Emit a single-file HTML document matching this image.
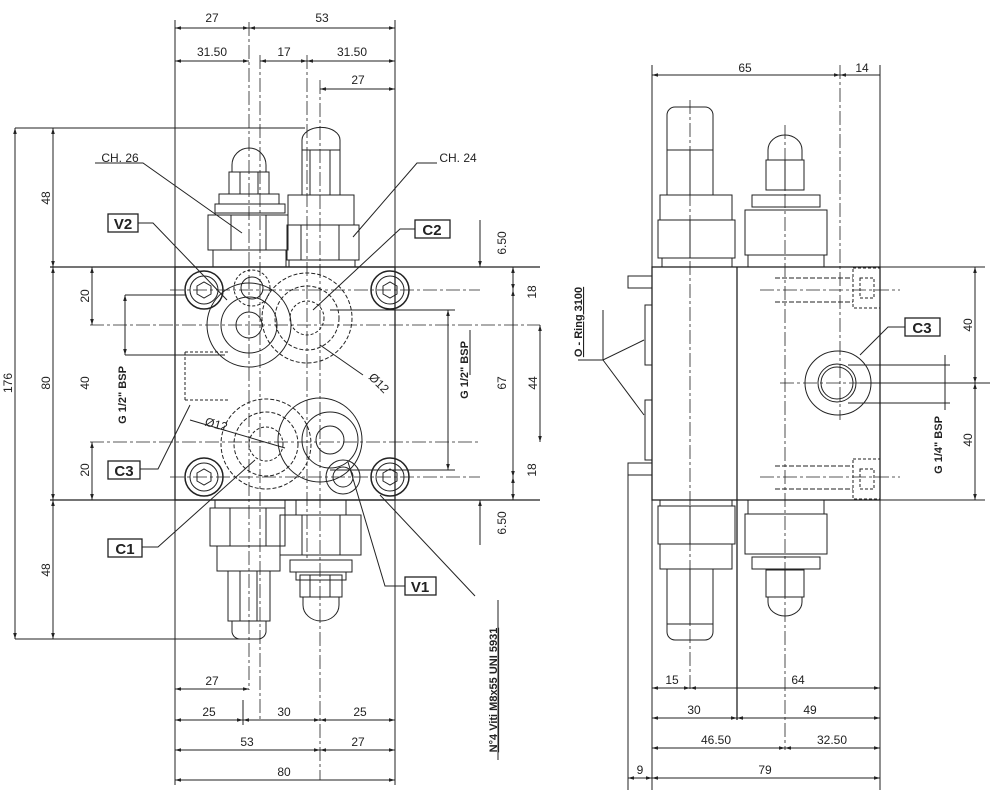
<!DOCTYPE html>
<html><head><meta charset="utf-8"><style>
html,body{margin:0;padding:0;background:#fff}
svg{display:block}
text{font-family:"Liberation Sans",sans-serif;font-size:12px;fill:#222}
.b{font-weight:bold}
</style></head><body>
<svg width="1000" height="807" viewBox="0 0 1000 807" xmlns="http://www.w3.org/2000/svg">
<defs>
<marker id="a" viewBox="0 0 10 10" refX="10" refY="5" markerWidth="8" markerHeight="6" orient="auto-start-reverse"><path d="M0,2L10,5L0,8z" fill="#222"/></marker>
</defs>
<g stroke="#222" fill="none" stroke-width="1">
<!-- LEFT VIEW body -->
<rect x="175" y="267" width="220" height="233" stroke-width="1.3"/>
<line x1="15" y1="128" x2="305" y2="128"/>
<line x1="15" y1="639" x2="240" y2="639"/>
<line x1="50" y1="267" x2="540" y2="267" stroke-width="1.3"/>
<line x1="50" y1="500" x2="540" y2="500" stroke-width="1.3"/>
<line x1="175" y1="20" x2="175" y2="785"/>
<line x1="395" y1="20" x2="395" y2="785"/>
<!-- center lines -->
<g stroke-dasharray="14,3,3,3" stroke-width="0.8">
<line x1="249" y1="22" x2="249" y2="690"/>
<line x1="260" y1="55" x2="260" y2="720"/>
<line x1="307" y1="55" x2="307" y2="560"/>
<line x1="320" y1="80" x2="320" y2="780"/>
<line x1="90" y1="325" x2="540" y2="325"/>
<line x1="90" y1="442" x2="480" y2="442"/>
<line x1="170" y1="290" x2="480" y2="290"/>
<line x1="170" y1="477" x2="480" y2="477"/>
</g>
<!-- top dims -->
<line x1="175" y1="28" x2="249" y2="28" marker-start="url(#a)" marker-end="url(#a)"/>
<line x1="249" y1="28" x2="395" y2="28" marker-start="url(#a)" marker-end="url(#a)"/>
<line x1="175" y1="61" x2="249" y2="61" marker-start="url(#a)" marker-end="url(#a)"/>
<line x1="260" y1="61" x2="307" y2="61" marker-start="url(#a)" marker-end="url(#a)"/>
<line x1="307" y1="61" x2="395" y2="61" marker-start="url(#a)" marker-end="url(#a)"/>
<line x1="320" y1="89" x2="395" y2="89" marker-start="url(#a)" marker-end="url(#a)"/>
<!-- left dims -->
<line x1="15" y1="128" x2="15" y2="639" marker-start="url(#a)" marker-end="url(#a)"/>
<line x1="53" y1="128" x2="53" y2="267" marker-start="url(#a)" marker-end="url(#a)"/>
<line x1="53" y1="267" x2="53" y2="500" marker-start="url(#a)" marker-end="url(#a)"/>
<line x1="53" y1="500" x2="53" y2="639" marker-start="url(#a)" marker-end="url(#a)"/>
<line x1="92" y1="267" x2="92" y2="325" marker-start="url(#a)" marker-end="url(#a)"/>
<line x1="125" y1="295" x2="125" y2="355" marker-start="url(#a)" marker-end="url(#a)"/>
<line x1="125" y1="295" x2="185" y2="295"/><line x1="125" y1="355" x2="225" y2="355"/>
<line x1="92" y1="442" x2="92" y2="500" marker-start="url(#a)" marker-end="url(#a)"/>
<!-- right dims -->
<line x1="480" y1="220" x2="480" y2="267" marker-end="url(#a)"/>
<line x1="480" y1="500" x2="480" y2="545" marker-start="url(#a)"/>
<line x1="513" y1="267" x2="513" y2="290" marker-start="url(#a)" marker-end="url(#a)"/>
<line x1="513" y1="290" x2="513" y2="477" marker-start="url(#a)" marker-end="url(#a)"/>
<line x1="513" y1="477" x2="513" y2="500" marker-start="url(#a)" marker-end="url(#a)"/>
<line x1="540" y1="325" x2="540" y2="442" marker-start="url(#a)" marker-end="url(#a)"/>
<line x1="448" y1="310" x2="448" y2="470" marker-start="url(#a)" marker-end="url(#a)"/>
<line x1="330" y1="310" x2="455" y2="310"/><line x1="330" y1="470" x2="455" y2="470"/>
<line x1="470" y1="330" x2="470" y2="375"/>
<!-- bottom dims -->
<line x1="175" y1="689" x2="249" y2="689" marker-start="url(#a)" marker-end="url(#a)"/>
<line x1="175" y1="720" x2="243" y2="720" marker-start="url(#a)" marker-end="url(#a)"/>
<line x1="243" y1="720" x2="320" y2="720" marker-start="url(#a)" marker-end="url(#a)"/>
<line x1="320" y1="720" x2="395" y2="720" marker-start="url(#a)" marker-end="url(#a)"/>
<line x1="175" y1="750" x2="320" y2="750" marker-start="url(#a)" marker-end="url(#a)"/>
<line x1="320" y1="750" x2="395" y2="750" marker-start="url(#a)" marker-end="url(#a)"/>
<line x1="175" y1="780" x2="395" y2="780" marker-start="url(#a)" marker-end="url(#a)"/>
<line x1="243" y1="700" x2="243" y2="725"/>
<!-- upper left valve x=249 -->
<path d="M232,165 A17,17 0 0 1 266,165 L266,172 L232,172 Z"/>
<rect x="229" y="172" width="40" height="22"/><line x1="240" y1="172" x2="240" y2="194"/><line x1="258" y1="172" x2="258" y2="194"/>
<rect x="219" y="194" width="60" height="10"/><rect x="215" y="204" width="70" height="9"/>
<path d="M208,215 L288,215 L288,250 L208,250 Z"/><line x1="231" y1="215" x2="231" y2="250"/><line x1="266" y1="215" x2="266" y2="250"/>
<rect x="213" y="250" width="73" height="17"/>
<!-- upper right valve x=320 -->
<path d="M302,140 A18,12 0 0 1 340,140 L340,150 L302,150 Z"/>
<rect x="302" y="150" width="38" height="45"/><line x1="310" y1="150" x2="310" y2="195"/><line x1="330" y1="150" x2="330" y2="195"/>
<rect x="288" y="195" width="66" height="30"/>
<rect x="287" y="225" width="72" height="35"/><line x1="301" y1="225" x2="301" y2="260"/><line x1="339" y1="225" x2="339" y2="260"/>
<rect x="289" y="260" width="66" height="7"/>
<!-- circles -->
<circle cx="204" cy="290" r="19" stroke-width="1.5"/><circle cx="204" cy="290" r="14"/>
<circle cx="390" cy="290" r="19" stroke-width="1.5"/><circle cx="390" cy="290" r="14"/>
<circle cx="204" cy="477" r="19" stroke-width="1.5"/><circle cx="204" cy="477" r="14"/>
<circle cx="390" cy="477" r="19" stroke-width="1.5"/><circle cx="390" cy="477" r="14"/>
<path d="M197,286l7,-4 7,4 0,8 -7,4 -7,-4z"/><path d="M383,286l7,-4 7,4 0,8 -7,4 -7,-4z"/>
<path d="M197,473l7,-4 7,4 0,8 -7,4 -7,-4z"/><path d="M383,473l7,-4 7,4 0,8 -7,4 -7,-4z"/>
<circle cx="249" cy="325" r="42"/><circle cx="249" cy="325" r="28"/><circle cx="249" cy="325" r="13"/>
<circle cx="307" cy="318" r="45" stroke-dasharray="4,2"/><circle cx="307" cy="318" r="32" stroke-dasharray="4,2"/><circle cx="307" cy="318" r="17" stroke-dasharray="3,2"/>
<circle cx="252" cy="288" r="18" stroke-dasharray="3,2"/><circle cx="252" cy="288" r="11"/>
<circle cx="266" cy="444" r="45" stroke-dasharray="4,2"/><circle cx="266" cy="444" r="32" stroke-dasharray="4,2"/><circle cx="266" cy="444" r="17" stroke-dasharray="3,2"/>
<circle cx="320" cy="440" r="42"/><circle cx="330" cy="440" r="28"/><circle cx="330" cy="440" r="14"/>
<circle cx="343" cy="477" r="17"/><circle cx="343" cy="477" r="10"/>
<path d="M185,352 L230,352 M185,400 L230,400 M185,352 L185,400" stroke-dasharray="3,2"/>
<!-- lower left valve x=249 -->
<rect x="215" y="500" width="70" height="8"/>
<rect x="210" y="508" width="75" height="38"/><line x1="230" y1="508" x2="230" y2="546"/><line x1="266" y1="508" x2="266" y2="546"/>
<rect x="217" y="546" width="63" height="25"/>
<rect x="228" y="571" width="42" height="50"/><line x1="240" y1="571" x2="240" y2="621"/><line x1="257" y1="571" x2="257" y2="621"/>
<path d="M232,621 L266,621 L266,632 A8,8 0 0 1 258,639 L240,639 A8,8 0 0 1 232,632 Z"/>
<!-- lower right valve x=320 -->
<rect x="296" y="500" width="50" height="15"/>
<rect x="280" y="515" width="81" height="40"/><line x1="302" y1="515" x2="302" y2="555"/><line x1="340" y1="515" x2="340" y2="555"/>
<rect x="290" y="560" width="62" height="12"/><rect x="296" y="572" width="50" height="8"/>
<rect x="300" y="575" width="42" height="22"/><line x1="310" y1="575" x2="310" y2="597"/><line x1="330" y1="575" x2="330" y2="597"/>
<path d="M303,597 L339,597 L339,605 A18,16 0 0 1 303,605 Z"/>
<!-- leaders -->
<path d="M95,163 L143,163 L242,233"/>
<path d="M437,163 L417,163 L353,237"/>
<path d="M138,223 L153,223 L227,300"/>
<path d="M415,229 L400,229 L313,310"/>
<path d="M140,469 L158,469 L190,405"/>
<path d="M142,547 L158,547 L255,460"/>
<path d="M405,586 L385,586 L348,462"/>
<path d="M475,596 L380,495"/>
<line x1="190" y1="420" x2="285" y2="448"/>
<line x1="320" y1="345" x2="363" y2="375"/>
<!-- label boxes -->
<rect x="108" y="214" width="30" height="18" stroke-width="1.3"/>
<rect x="415" y="220" width="35" height="18" stroke-width="1.3"/>
<rect x="108" y="461" width="32" height="18" stroke-width="1.3"/>
<rect x="108" y="539" width="34" height="18" stroke-width="1.3"/>
<rect x="405" y="577" width="31" height="18" stroke-width="1.3"/>
<line x1="498" y1="600" x2="498" y2="760"/>

<!-- RIGHT VIEW -->
<rect x="652" y="267" width="228" height="233" stroke-width="1.3"/>
<line x1="737" y1="267" x2="737" y2="720" stroke-width="1.3"/>
<line x1="652" y1="65" x2="652" y2="790"/>
<line x1="880" y1="65" x2="880" y2="790"/>
<line x1="628" y1="470" x2="628" y2="790"/>
<g stroke-dasharray="14,3,3,3" stroke-width="0.8">
<line x1="690" y1="100" x2="690" y2="690"/>
<line x1="785" y1="125" x2="785" y2="750"/>
<line x1="840" y1="65" x2="840" y2="420"/>
<line x1="780" y1="383" x2="900" y2="383"/>
<line x1="760" y1="290" x2="900" y2="290"/>
<line x1="760" y1="477" x2="900" y2="477"/>
</g>
<line x1="652" y1="75" x2="840" y2="75" marker-start="url(#a)" marker-end="url(#a)"/>
<line x1="840" y1="75" x2="880" y2="75" marker-start="url(#a)"/>
<line x1="652" y1="688" x2="690" y2="688" marker-start="url(#a)" marker-end="url(#a)"/>
<line x1="690" y1="688" x2="880" y2="688" marker-start="url(#a)" marker-end="url(#a)"/>
<line x1="652" y1="718" x2="737" y2="718" marker-start="url(#a)" marker-end="url(#a)"/>
<line x1="737" y1="718" x2="880" y2="718" marker-start="url(#a)" marker-end="url(#a)"/>
<line x1="652" y1="748" x2="785" y2="748" marker-start="url(#a)" marker-end="url(#a)"/>
<line x1="785" y1="748" x2="880" y2="748" marker-start="url(#a)" marker-end="url(#a)"/>
<line x1="628" y1="778" x2="652" y2="778" marker-start="url(#a)" marker-end="url(#a)"/>
<line x1="652" y1="778" x2="880" y2="778" marker-start="url(#a)" marker-end="url(#a)"/>
<line x1="880" y1="267" x2="985" y2="267"/><line x1="880" y1="500" x2="985" y2="500"/>
<line x1="975" y1="267" x2="975" y2="383" marker-start="url(#a)" marker-end="url(#a)"/>
<line x1="975" y1="383" x2="975" y2="500" marker-start="url(#a)" marker-end="url(#a)"/>
<line x1="860" y1="383" x2="990" y2="383"/>
<line x1="848" y1="365" x2="950" y2="365"/><line x1="848" y1="403" x2="950" y2="403"/>
<line x1="945" y1="355" x2="945" y2="410"/>
<!-- right upper left cylinder -->
<path d="M667,115 A8,8 0 0 1 675,107 L705,107 A8,8 0 0 1 713,115 L713,150 L667,150 Z"/>
<rect x="667" y="150" width="46" height="45"/><line x1="690" y1="150" x2="690" y2="195"/>
<rect x="660" y="195" width="72" height="25"/>
<rect x="658" y="220" width="77" height="38"/><line x1="690" y1="220" x2="690" y2="258"/>
<rect x="662" y="258" width="70" height="9"/>
<!-- right upper valve -->
<path d="M768,150 A17,15 0 0 1 802,150 L802,160 L768,160 Z"/>
<rect x="766" y="160" width="38" height="30"/><line x1="785" y1="160" x2="785" y2="190"/>
<rect x="752" y="195" width="68" height="12"/>
<rect x="745" y="210" width="82" height="45"/><rect x="748" y="255" width="76" height="12"/>
<!-- bolt heads -->
<rect x="853" y="268" width="27" height="40" stroke-dasharray="3,2"/>
<rect x="860" y="278" width="14" height="20" stroke-dasharray="3,2"/>
<rect x="853" y="459" width="27" height="40" stroke-dasharray="3,2"/>
<rect x="860" y="469" width="14" height="20" stroke-dasharray="3,2"/>
<line x1="775" y1="278" x2="853" y2="278" stroke-dasharray="5,2"/><line x1="775" y1="302" x2="853" y2="302" stroke-dasharray="5,2"/>
<line x1="775" y1="466" x2="853" y2="466" stroke-dasharray="5,2"/><line x1="775" y1="489" x2="853" y2="489" stroke-dasharray="5,2"/>
<ellipse cx="838" cy="383" rx="33" ry="32"/><circle cx="837" cy="383" r="19"/><circle cx="837" cy="383" r="16"/>
<!-- pins & oring -->
<rect x="628" y="276" width="24" height="12"/><rect x="628" y="463" width="24" height="12"/>
<rect x="645" y="305" width="7" height="60"/><rect x="645" y="400" width="7" height="60"/>
<path d="M578,360 L603,360 L644,340 M603,360 L644,415"/>
<line x1="603" y1="310" x2="603" y2="360"/>
<path d="M905,327 L888,327 L860,355"/>
<rect x="905" y="318" width="35" height="18" stroke-width="1.3"/>
<!-- right lower -->
<rect x="660" y="500" width="72" height="6"/>
<rect x="658" y="506" width="77" height="38"/><line x1="690" y1="506" x2="690" y2="544"/>
<rect x="660" y="544" width="72" height="25"/>
<rect x="667" y="569" width="46" height="55"/><line x1="690" y1="569" x2="690" y2="624"/>
<path d="M667,624 L713,624 L713,632 A8,8 0 0 1 705,640 L675,640 A8,8 0 0 1 667,632 Z"/>
<rect x="748" y="500" width="76" height="14"/>
<rect x="745" y="514" width="82" height="40"/>
<rect x="752" y="557" width="68" height="12"/>
<rect x="766" y="570" width="38" height="27"/><line x1="785" y1="570" x2="785" y2="597"/>
<path d="M768,597 L802,597 L802,602 A17,14 0 0 1 768,602 Z"/>
</g>
<!-- texts -->
<g text-anchor="middle">
<text x="212" y="22">27</text><text x="322" y="22">53</text>
<text x="212" y="56">31.50</text><text x="284" y="56">17</text><text x="352" y="56">31.50</text>
<text x="358" y="84">27</text>
<text x="212" y="685">27</text>
<text x="209" y="716">25</text><text x="284" y="716">30</text><text x="360" y="716">25</text>
<text x="247" y="746">53</text><text x="358" y="746">27</text>
<text x="284" y="776">80</text>
<text x="745" y="72">65</text><text x="862" y="72">14</text>
<text x="672" y="684">15</text><text x="798" y="684">64</text>
<text x="694" y="714">30</text><text x="810" y="714">49</text>
<text x="716" y="744">46.50</text><text x="832" y="744">32.50</text>
<text x="640" y="774">9</text><text x="765" y="774">79</text>
<text x="120" y="162">CH. 26</text><text x="458" y="162">CH. 24</text>
<text class="b" x="123" y="229" style="font-size:15px">V2</text>
<text class="b" x="432" y="235" style="font-size:15px">C2</text>
<text class="b" x="124" y="476" style="font-size:15px">C3</text>
<text class="b" x="125" y="554" style="font-size:15px">C1</text>
<text class="b" x="420" y="592" style="font-size:15px">V1</text>
<text class="b" x="922" y="333" style="font-size:15px">C3</text>
</g>
<text x="375" y="375" transform="rotate(45 368 368)">Ø12</text>
<text x="205" y="428" transform="rotate(15 215 424)">Ø12</text>
<g text-anchor="middle">
<text transform="translate(12,383) rotate(-90)">176</text>
<text transform="translate(50,198) rotate(-90)">48</text>
<text transform="translate(50,383) rotate(-90)">80</text>
<text transform="translate(50,570) rotate(-90)">48</text>
<text transform="translate(89,296) rotate(-90)">20</text>
<text transform="translate(89,383) rotate(-90)">40</text>
<text transform="translate(89,470) rotate(-90)">20</text>
<text class="b" transform="translate(126,395) rotate(-90)" style="font-size:11px">G 1/2" BSP</text>
<text class="b" transform="translate(468,370) rotate(-90)" style="font-size:11px">G 1/2" BSP</text>
<text transform="translate(506,243) rotate(-90)">6.50</text>
<text transform="translate(506,523) rotate(-90)">6.50</text>
<text transform="translate(536,292) rotate(-90)">18</text>
<text transform="translate(537,383) rotate(-90)">44</text>
<text transform="translate(536,470) rotate(-90)">18</text>
<text transform="translate(506,383) rotate(-90)">67</text>
<text class="b" transform="translate(497,690) rotate(-90)" style="font-size:11px;text-decoration:underline">N°4 Viti M8x55 UNI 5931</text>
<text class="b" transform="translate(582,322) rotate(-90)" style="font-size:11px;text-decoration:underline">O - Ring 3100</text>
<text transform="translate(972,325) rotate(-90)">40</text>
<text transform="translate(972,440) rotate(-90)">40</text>
<text class="b" transform="translate(942,445) rotate(-90)" style="font-size:11px">G 1/4" BSP</text>
</g>
</svg>
</body></html>
